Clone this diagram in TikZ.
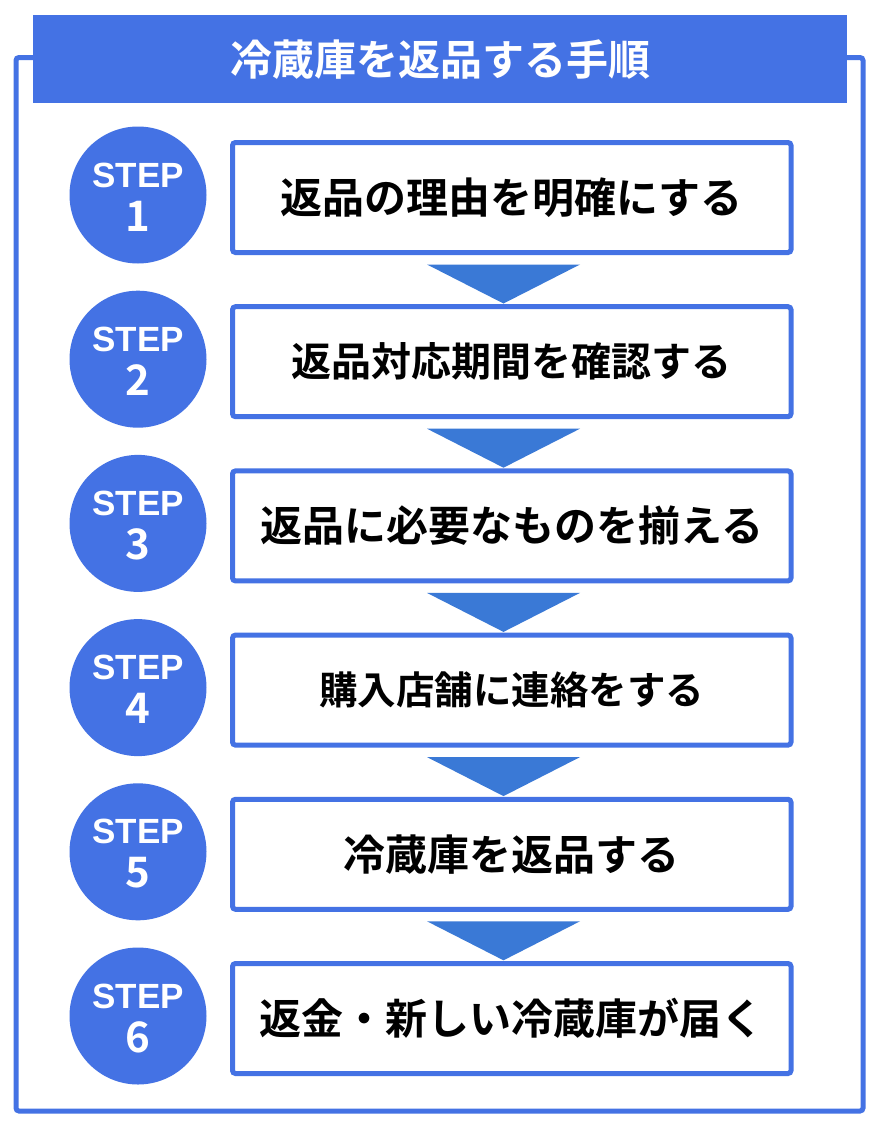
\documentclass[tikz,border=0pt]{standalone}
\usepackage{fontspec}
\usetikzlibrary{calc}
\newfontfamily\jpb{Noto Sans CJK JP Bold}
\newfontfamily\lsans{Liberation Sans}
\definecolor{mainblue}{HTML}{4472E4}
\definecolor{triblue}{HTML}{3A79D6}
\tikzset{
  frame/.style={draw=mainblue, line width=5pt, rounded corners=3pt},
  titlebar/.style={fill=mainblue, text=white, inner sep=0pt, minimum width=814pt, minimum height=88pt, font=\jpb\fontsize{42}{42}\selectfont},
  stepbox/.style={draw=mainblue, fill=white, line width=5pt, rounded corners=3pt, inner sep=0pt, minimum width=558.5pt, minimum height=110pt},
  stepcircle/.style={circle, fill=mainblue, inner sep=0pt, minimum size=137pt},
  steplbl/.style={text=white, inner sep=0pt, font=\lsans\bfseries\fontsize{35}{35}\selectfont},
  stepnum/.style={text=white, inner sep=0pt, font=\jpb\fontsize{42}{42}\selectfont},
  arrowtri/.style={fill=triblue}
}
\begin{document}
\begin{tikzpicture}[x=1pt,y=-1pt]
\useasboundingbox (0,0) rectangle (885,1127);
\fill[white] (0,0) rectangle (885,1127);
\draw[frame] (16,57.5) rectangle (863,1111);
\node[titlebar, anchor=north west] (title) at (33,15) {冷蔵庫を返品する手順};

\foreach \i/\txt/\fs in {1/返品の理由を明確にする/42, 2/返品対応期間を確認する/40, 3/返品に必要なものを揃える/42, 4/購入店舗に連絡をする/38.5, 5/冷蔵庫を返品する/42, 6/返金・新しい冷蔵庫が届く/42}{
  \pgfmathsetmacro{\yy}{197.5+164.2*(\i-1)}
  \pgfmathsetmacro{\cy}{195+164.2*(\i-1)}
  \node[stepbox, font=\jpb\fontsize{\fs}{\fs}\selectfont] (b\i) at (511.75,\yy) {\txt};
  \node[stepcircle] (c\i) at (138,\cy) {};
  \node[steplbl] (l\i) at ($(c\i.center)+(0,-20)$) {STEP};
  \node[stepnum] (n\i) at ($(c\i.center)+(0,21)$) {\i};
}
\foreach \i in {1,...,5}{
  \fill[arrowtri] ($(b\i.south)+(-84.75,9.5)$) -- ($(b\i.south)+(68.25,9.5)$) -- ($(b\i.south)+(-8.25,48.5)$) -- cycle;
}
\end{tikzpicture}
\end{document}
